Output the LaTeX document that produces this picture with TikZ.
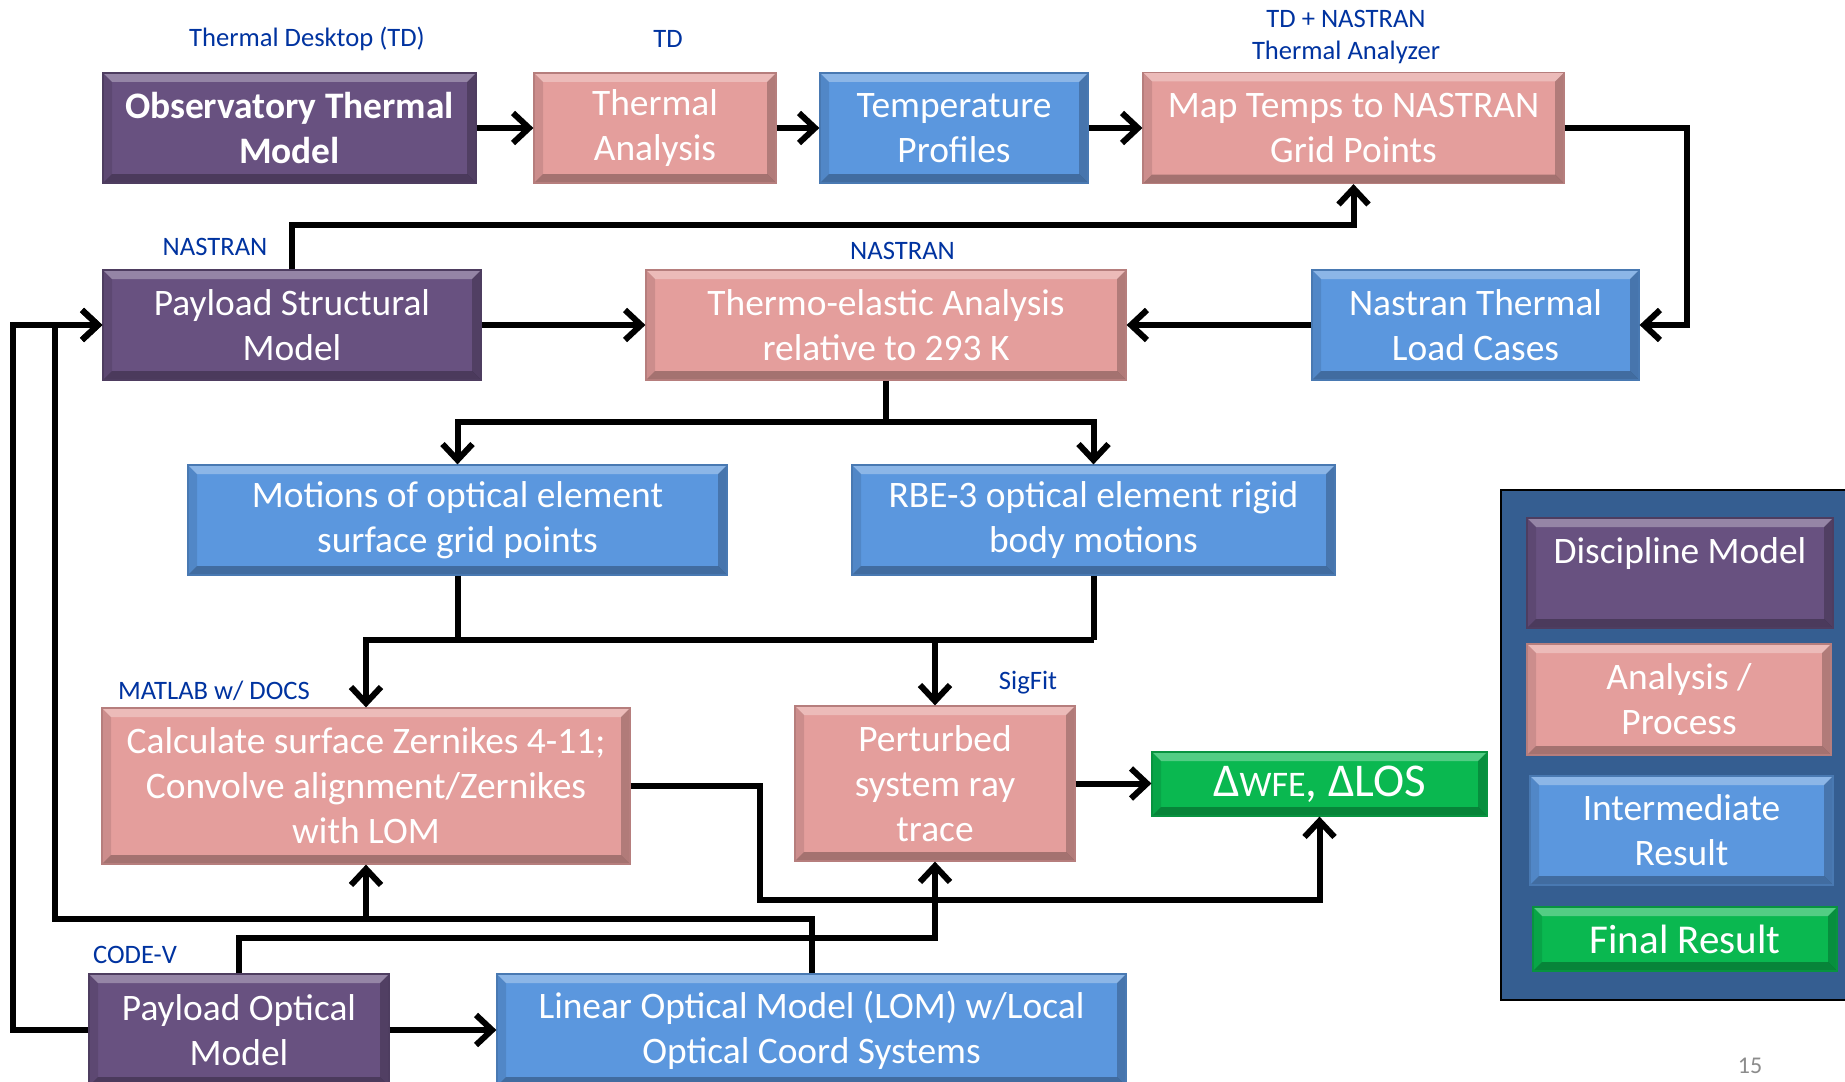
\documentclass[tikz,border=0pt]{standalone}
\usepackage{fontspec}
\setmainfont{Carlito}
\usetikzlibrary{arrows.meta,calc}
\definecolor{cpurple}{RGB}{104,81,128}
\definecolor{cpink}{RGB}{228,158,156}
\definecolor{cblue}{RGB}{91,151,222}
\definecolor{cgreen}{RGB}{10,184,80}
\definecolor{cpanel}{RGB}{53,94,145}
\definecolor{clabel}{RGB}{0,51,160}
\def\bevw{4.5pt}
\tikzset{
 bevel/.style={path picture={
  \fill[white,opacity=.30] (path picture bounding box.north west) -- (path picture bounding box.north east) -- ([shift={(-\bevw,-\bevw)}]path picture bounding box.north east) -- ([shift={(\bevw,-\bevw)}]path picture bounding box.north west) -- cycle;
  \fill[black,opacity=.28] (path picture bounding box.south west) -- (path picture bounding box.south east) -- ([shift={(-\bevw,\bevw)}]path picture bounding box.south east) -- ([shift={(\bevw,\bevw)}]path picture bounding box.south west) -- cycle;
  \fill[black,opacity=.10] (path picture bounding box.north west) -- (path picture bounding box.south west) -- ([shift={(\bevw,\bevw)}]path picture bounding box.south west) -- ([shift={(\bevw,-\bevw)}]path picture bounding box.north west) -- cycle;
  \fill[black,opacity=.22] (path picture bounding box.north east) -- (path picture bounding box.south east) -- ([shift={(-\bevw,\bevw)}]path picture bounding box.south east) -- ([shift={(-\bevw,-\bevw)}]path picture bounding box.north east) -- cycle;
 }},
 basebox/.style={bevel, text=white, align=center, inner sep=0pt, line width=0.6pt, font=\fontsize{18.7}{22.5}\selectfont},
 purplebox/.style={basebox, fill=cpurple, draw=cpurple!75!black},
 pinkbox/.style={basebox, fill=cpink, draw=cpink!80!black},
 bluebox/.style={basebox, fill=cblue, draw=cblue!80!black},
 greenbox/.style={basebox, fill=cgreen, draw=cgreen!80!black},
 tool/.style={text=clabel, inner sep=0pt, font=\fontsize{13.3}{16}\selectfont},
 conn/.style={line width=3pt, -{Straight Barb[length=8pt,width=15pt]}},
 wire/.style={line width=3pt},
}
\begin{document}
\begin{tikzpicture}[x=0.5pt,y=-0.5pt]
\clip (0,0) rectangle (1845,1081);
\fill[white] (0,0) rectangle (1845,1081);

% legend panel
\draw[fill=cpanel, line width=1pt] (1501,490) rectangle (1870,1000);

% boxes
\node[purplebox, minimum width=186.5pt, minimum height=55pt, font=\fontsize{18.7}{22.5}\selectfont\bfseries] (obs) at (289.5,128) {Observatory Thermal\\Model};
\node[pinkbox, minimum width=121pt, minimum height=55pt] (ta) at (655,128) {Thermal\\Analysis};
\node[bluebox, minimum width=134pt, minimum height=55pt] (tp) at (954,128) {Temperature\\Profiles};
\node[pinkbox, minimum width=210.5pt, minimum height=55.5pt] (map) at (1353.5,128) {Map Temps to NASTRAN\\Grid Points};
\node[purplebox, minimum width=189pt, minimum height=55pt] (pstruct) at (292,325) {Payload Structural\\Model};
\node[pinkbox, minimum width=240pt, minimum height=55pt] (thermo) at (886,325) {Thermo-elastic Analysis\\relative to 293 K};
\node[bluebox, minimum width=163.5pt, minimum height=55pt] (nastran) at (1475.5,325) {Nastran Thermal\\Load Cases};
\node[bluebox, minimum width=269.5pt, minimum height=55pt] (motions) at (457.5,520) {Motions of optical element\\surface grid points};
\node[bluebox, minimum width=241.5pt, minimum height=55pt] (rbe) at (1093.5,520) {RBE-3 optical element rigid\\body motions};
\node[pinkbox, minimum width=264pt, minimum height=78pt] (calc) at (366,786) {Calculate surface Zernikes 4-11;\\Convolve alignment/Zernikes\\with LOM};
\node[pinkbox, minimum width=140pt, minimum height=77.5pt] (pert) at (935,783.5) {Perturbed\\system ray\\trace};
\node[greenbox, minimum width=167.5pt, minimum height=32pt, font=\fontsize{23.5}{26}\selectfont] (dwfe) at (1319.5,784) {Δ{\fontsize{18}{20}\selectfont WFE}, ΔLOS};
\node[purplebox, minimum width=150pt, minimum height=56pt] (popt) at (239,1030) {Payload Optical\\Model};
\node[bluebox, minimum width=314.5pt, minimum height=56pt] (lom) at (811.5,1030) {Linear Optical Model (LOM) w/Local\\Optical Coord Systems};

% legend boxes
\node[purplebox, minimum width=153pt, minimum height=55pt] (leg1) at (1680,573) {Discipline Model\\\mbox{}};
\node[pinkbox, minimum width=152pt, minimum height=55.5pt] (leg2) at (1679,699.5) {Analysis /\\Process};
\node[bluebox, minimum width=151.5pt, minimum height=54.5pt] (leg3) at (1681.5,830.5) {Intermediate\\Result};
\node[greenbox, minimum width=152pt, minimum height=32pt, font=\fontsize{20.5}{24}\selectfont] (leg4) at (1685,939) {Final Result};

% tool labels
\node[tool] (t1) at (307,39) {Thermal Desktop (TD)};
\node[tool] (t2) at (668,39) {TD};
\node[tool] (t3a) at (1346,19) {TD + NASTRAN};
\node[tool] (t3b) at (1346,52) {Thermal Analyzer};
\node[tool] (t4) at (215,247) {NASTRAN};
\node[tool] (t5) at (902.5,251) {NASTRAN};
\node[tool] (t6) at (214,691) {MATLAB w/ DOCS};
\node[tool] (t7) at (1028,683) {SigFit};
\node[tool] (t8) at (135,955) {CODE-V};
\node[text=black!45, anchor=south, inner sep=0pt, font=\fontsize{12}{14}\selectfont] (pg) at (1750,1074) {15};

% coordinates
\coordinate (rr) at (1687,325);
\coordinate (h1) at (886,422);
\coordinate (m1) at (457.5,640);
\coordinate (m2) at (1093.5,640);
\coordinate (k1) at (760,900);
\coordinate (l1) at (13,325);
\coordinate (l2) at (54.5,919);
\coordinate (m3) at (935,938);

% connectors
\draw[conn] (obs.east) -- (ta.west);
\draw[conn] (ta.east) -- (tp.west);
\draw[conn] (tp.east) -- (tp.east -| map.west);
\draw[conn] (map.east) -| (rr) -- (nastran.east);
\draw[conn] (nastran.west) -- (thermo.east);
\draw[conn] (pstruct.north) -- ++(0,-44) -| (map.south);
\draw[conn] (pstruct.east) -- (thermo.west);
\draw[wire] (thermo.south) -- (h1);
\draw[conn] (h1) -| (motions.north);
\draw[conn] (h1) -| (rbe.north);
\draw[wire] (motions.south) -- (m1);
\draw[wire] (rbe.south) -- (m2);
\draw[conn] (m2) -| (calc.north);
\draw[conn] (pert.north |- m2) -- (pert.north);
\draw[conn] (pert.east) -- (pert.east -| dwfe.west);
\draw[conn] (calc.east) -| (k1) -| (dwfe.south);
\draw[conn] (popt.west) -| (l1) -- (pstruct.west);
\draw[conn] (lom.north) |- (l2) |- (pstruct.west);
\draw[conn] (calc.south |- l2) -- (calc.south);
\draw[conn] (popt.north) |- (m3) -- (pert.south);
\draw[conn] (popt.east) -- (lom.west);
\end{tikzpicture}
\end{document}
